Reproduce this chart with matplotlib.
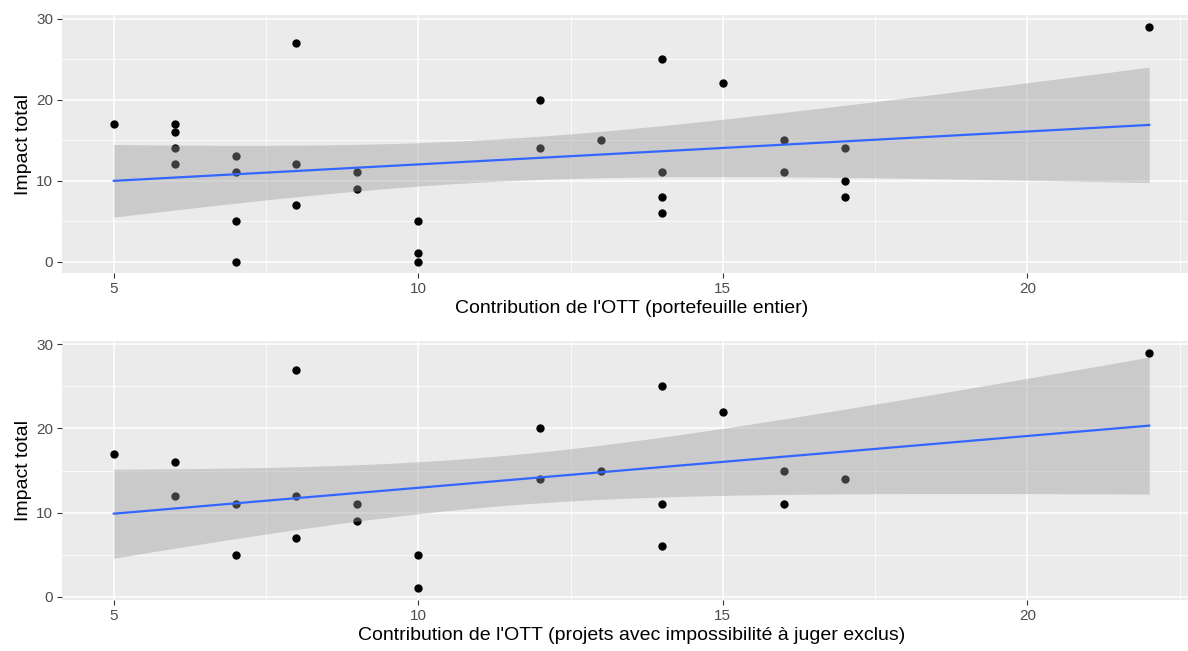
import numpy as np
import matplotlib
matplotlib.use("Agg")
import matplotlib.pyplot as plt
from matplotlib.ticker import MultipleLocator

plt.rcParams['font.family'] = ['Liberation Sans', 'DejaVu Sans']

# Top panel: whole portfolio
x_top = [5, 6, 6, 6, 6, 7, 7, 7, 7, 8, 8, 8, 9, 9, 10, 10, 10, 12, 12, 13,
         14, 14, 14, 14, 15, 16, 16, 17, 17, 17, 22]
y_top = [17, 17, 16, 14, 12, 13, 11, 5, 0, 27, 12, 7, 11, 9, 5, 1, 0, 20, 14, 15,
         25, 11, 8, 6, 22, 15, 11, 14, 10, 8, 29]

# Bottom panel: projects with "impossible to judge" excluded
x_bot = [5, 6, 6, 7, 7, 8, 8, 8, 9, 9, 10, 10, 12, 12, 13, 14, 14, 14, 15, 16, 16, 17, 22]
y_bot = [17, 16, 12, 11, 5, 27, 12, 7, 11, 9, 5, 1, 20, 14, 15, 25, 11, 6, 22, 15, 11, 14, 29]

xlabel_top = "Contribution de l'OTT (portefeuille entier)"
xlabel_bot = "Contribution de l'OTT (projets avec impossibilité à juger exclus)"
ylabel = "Impact total"

# t quantiles (0.975) for df = n - 2
T975 = {29: 2.0452, 21: 2.0796}


def smooth(x, y):
    x = np.asarray(x, float)
    y = np.asarray(y, float)
    n = len(x)
    b, a = np.polyfit(x, y, 1)
    xs = np.linspace(x.min(), x.max(), 80)
    fit = a + b * xs
    resid = y - (a + b * x)
    s = np.sqrt(np.sum(resid ** 2) / (n - 2))
    sxx = np.sum((x - x.mean()) ** 2)
    se = s * np.sqrt(1 / n + (xs - x.mean()) ** 2 / sxx)
    t = T975[n - 2]
    return xs, fit, fit - t * se, fit + t * se


W, H = 1188, 651
fig = plt.figure(figsize=(W / 100, H / 100), dpi=100)

left = 62 / W
width = (1201 - 62) / W
axes_specs = [
    (x_top, y_top, xlabel_top, (1 - 273.3 / H, 258.3 / H), (-1.45, 30.45)),
    (x_bot, y_bot, xlabel_bot, (1 - 600 / H, 259 / H), (-0.4, 30.4)),
]

for x, y, xl, (bot, hgt), ylim in axes_specs:
    ax = fig.add_axes([left, bot, width, hgt])
    ax.set_facecolor('#EBEBEB')
    for sp in ax.spines.values():
        sp.set_visible(False)
    ax.set_xlim(4.15, 22.85)
    ax.set_ylim(*ylim)
    ax.xaxis.set_major_locator(MultipleLocator(5))
    ax.xaxis.set_minor_locator(MultipleLocator(2.5))
    ax.yaxis.set_major_locator(MultipleLocator(10))
    ax.yaxis.set_minor_locator(MultipleLocator(5))
    ax.grid(which='major', color='white', linewidth=1.1)
    ax.grid(which='minor', color='white', linewidth=0.55)
    ax.set_axisbelow(True)
    ax.tick_params(which='major', length=3.5, width=0.8, color='#333333',
                   labelsize=11, labelcolor='#4D4D4D', pad=3)
    ax.tick_params(which='minor', length=0)

    ax.scatter(x, y, s=36, color='black', zorder=3, linewidths=0)
    xs, fit, lo, hi = smooth(x, y)
    ax.fill_between(xs, lo, hi, color='#999999', alpha=0.4, linewidth=0, zorder=4)
    ax.plot(xs, fit, color='#3366FF', linewidth=1.6, zorder=5)

    ax.set_xlabel(xl, fontsize=14, color='black', labelpad=3)
    ax.set_ylabel(ylabel, fontsize=14, color='black', labelpad=3)

fig.savefig('out.png', dpi=100)
